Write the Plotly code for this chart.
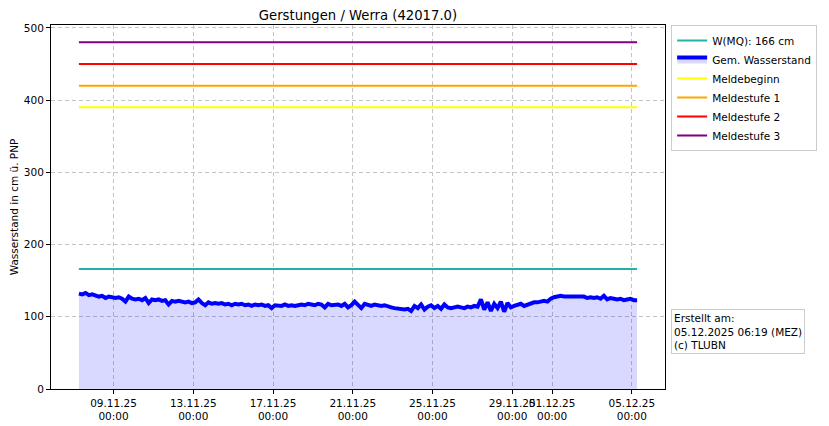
import pandas as pd
import plotly.graph_objects as go

# --- data ---
start_time = "2025-11-07 06:19"
step = "4h"
wasserstand = [
    132, 131, 133, 130, 131, 129,   # 07.11
    128, 129, 126, 128, 127, 126,   # 08.11
    127, 125, 121, 128, 125, 124,   # 09.11
    125, 123, 126, 119, 124, 123,   # 10.11
    124, 122, 123, 117, 122, 121,   # 11.11
    122, 121, 120, 121, 119, 120,   # 12.11
    124, 119, 116, 120, 118, 119,   # 13.11
    118, 119, 117, 118, 116, 118,   # 14.11
    117, 118, 116, 117, 115, 117,   # 15.11
    116, 117, 115, 116, 112, 116,   # 16.11
    116, 115, 117, 115, 116, 115,   # 17.11
    116, 117, 116, 118, 117, 116,   # 18.11
    118, 117, 113, 118, 116, 117,   # 19.11
    117, 115, 118, 113, 116, 121,   # 20.11
    116, 112, 118, 116, 115, 117,   # 21.11
    116, 115, 116, 114, 113, 112,   # 22.11
    111, 110, 110, 111, 108, 115,   # 23.11
    112, 117, 110, 114, 116, 112,   # 24.11
    115, 111, 117, 113, 112, 113,   # 25.11
    114, 113, 112, 114, 113, 115,   # 26.11
    114, 124, 110, 120, 108, 118,   # 27.11
    112, 121, 107, 119, 113, 115,   # 28.11
    116, 118, 115, 117, 119, 120,   # 29.11
    120, 121, 122, 121, 125, 127,   # 30.11
    128, 129, 128, 128, 127, 128,   # 01.12
    128, 127, 128, 126, 127, 126,   # 02.12
    127, 125, 129, 124, 126, 125,   # 03.12
    124, 125, 123, 124, 125, 123,   # 04.12
    123,                            # 05.12
]
level_names = ["W(MQ): 166 cm", "Meldebeginn", "Meldestufe 1", "Meldestufe 2", "Meldestufe 3"]
level_values = [166, 390, 420, 450, 480]
level_colors = ["#20b2aa", "#ffff00", "#ffa500", "#ff0000", "#800080"]
tick_dates = ["2025-11-09", "2025-11-13", "2025-11-17", "2025-11-21",
              "2025-11-25", "2025-11-29", "2025-12-01", "2025-12-05"]
tick_labels = ["09.11.25<br>00:00", "13.11.25<br>00:00", "17.11.25<br>00:00", "21.11.25<br>00:00",
               "25.11.25<br>00:00", "29.11.25<br>00:00", "01.12.25<br>00:00", "05.12.25<br>00:00"]

times = pd.date_range(start=start_time, periods=len(wasserstand), freq=step)
t0, t1 = times[0], times[-1]
span = t1 - t0
x_range = [t0 - span * 0.05, t1 + span * 0.05]

FONT = "DejaVu Sans"
fig = go.Figure()

# W(MQ)
fig.add_trace(go.Scatter(x=[t0, t1], y=[level_values[0]] * 2, mode="lines",
                         line=dict(color=level_colors[0], width=2), name=level_names[0]))
# measured water level with fill
fig.add_trace(go.Scatter(x=times, y=wasserstand, mode="lines", fill="tozeroy",
                         fillcolor="rgba(0,0,255,0.15)",
                         line=dict(color="#0000ff", width=4), name="Gem. Wasserstand"))
for name, val, col in zip(level_names[1:], level_values[1:], level_colors[1:]):
    fig.add_trace(go.Scatter(x=[t0, t1], y=[val] * 2, mode="lines",
                             line=dict(color=col, width=2), name=name))

axis_common = dict(showline=True, linecolor="black", linewidth=1, mirror=True,
                   ticks="outside", ticklen=4, tickcolor="black", automargin=False,
                   showgrid=True, gridcolor="#c4c4c4", griddash="4px,3px", gridwidth=1,
                   zeroline=False, tickfont=dict(family=FONT, size=10.5, color="black"))

fig.update_layout(
    width=821, height=418,
    margin=dict(l=43, r=152, t=17, b=37),
    paper_bgcolor="white", plot_bgcolor="white",
    font=dict(family=FONT, size=10.5, color="black"),
    title=dict(text="Gerstungen / Werra (42017.0)", xref="paper", x=0.5, xanchor="center",
               yref="container", y=0.982, yanchor="middle",
               font=dict(family=FONT, size=13.2, color="black")),
    showlegend=True,
    legend=dict(x=1.01, y=1.0, xanchor="left", yanchor="top", itemwidth=30,
                bordercolor="#cccccc", borderwidth=1, bgcolor="white",
                font=dict(family=FONT, size=10.5), tracegroupgap=0),
    xaxis=dict(range=x_range, tickvals=pd.to_datetime(tick_dates), ticktext=tick_labels,
               tickangle=0, **axis_common),
    yaxis=dict(range=[0, 504], tickvals=[0, 100, 200, 300, 400, 500],
               title=dict(text="Wasserstand in cm ü. PNP", font=dict(family=FONT, size=10.5)),
               **axis_common),
)

fig.add_annotation(xref="paper", yref="paper", x=1.01, y=0.159, xanchor="left", yanchor="middle",
                   text="Erstellt am:<br>05.12.2025 06:19 (MEZ)<br>(c) TLUBN",
                   align="left", showarrow=False, bordercolor="#cccccc", borderwidth=1,
                   borderpad=2, bgcolor="white", font=dict(family=FONT, size=10.5, color="black"))

fig.write_html("out.html")
